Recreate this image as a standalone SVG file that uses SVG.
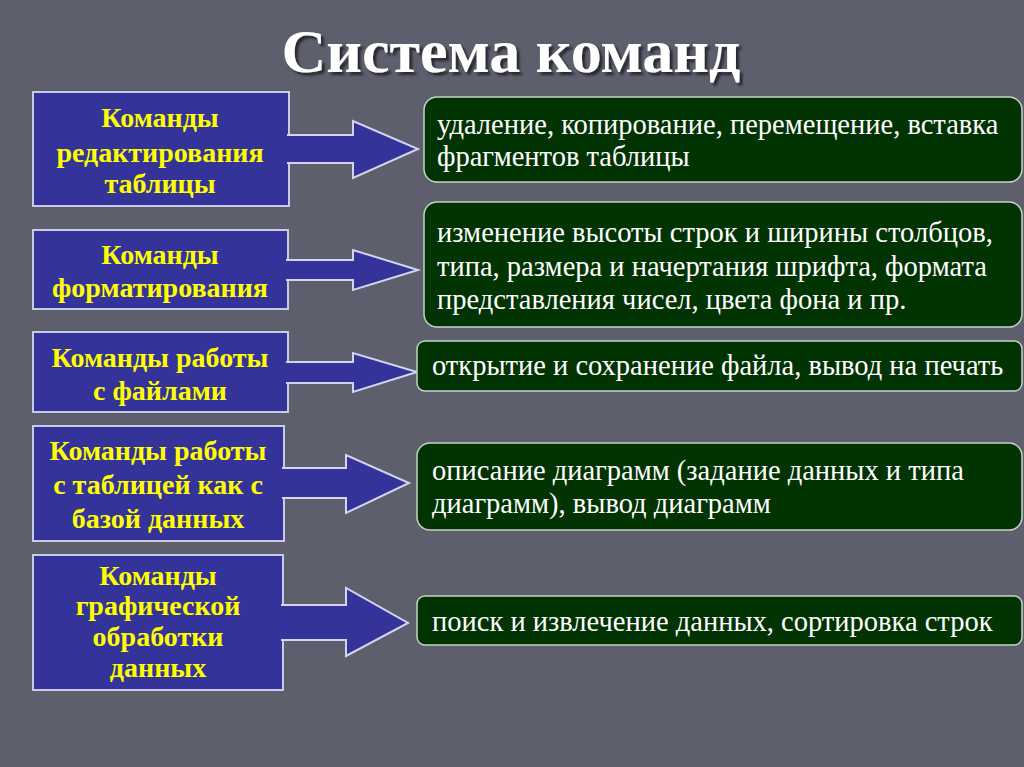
<svg xmlns="http://www.w3.org/2000/svg" width="1024" height="767" viewBox="0 0 1024 767">
<defs>
<filter id="sh" x="-10%" y="-30%" width="120%" height="160%">
<feDropShadow dx="3" dy="3" stdDeviation="1" flood-color="#1c1c26" flood-opacity="0.85"/>
</filter>
</defs>
<style>
.bg{fill:#5e5f6d}
.lbox{fill:#333399;stroke:#c9c9e8;stroke-width:2}
.rbox{fill:#023302;stroke:#c8d0c8;stroke-width:1.5}
.arr{fill:#333399;stroke:#d4d4f0;stroke-width:2;stroke-linejoin:miter}
.lt{font-family:"Liberation Serif","Times New Roman",serif;font-weight:bold;font-size:28px;fill:#ffff00;text-anchor:middle}
.rt{font-family:"Liberation Serif","Times New Roman",serif;font-size:28.5px;fill:#ffffff}
.title{font-family:"Liberation Serif","Times New Roman",serif;font-weight:bold;font-size:62px;text-anchor:middle;fill:#ffffff}
</style>
<rect class="bg" x="0" y="0" width="1024" height="767"/>
<g id="title">
<text class="title" x="511" y="72" filter="url(#sh)">Система команд</text>
</g>
<g id="left1">
<rect class="lbox" x="33" y="92" width="256" height="114"/>
<text class="lt" x="160" y="127">Команды</text>
<text class="lt" x="160" y="162">редактирования</text>
<text class="lt" x="160" y="193">таблицы</text>
</g>
<g id="left2">
<rect class="lbox" x="33" y="230" width="255" height="79"/>
<text class="lt" x="160" y="264">Команды</text>
<text class="lt" x="160" y="297">форматирования</text>
</g>
<g id="left3">
<rect class="lbox" x="33" y="332" width="255" height="80"/>
<text class="lt" x="160" y="367">Команды работы</text>
<text class="lt" x="160" y="400">с файлами</text>
</g>
<g id="left4">
<rect class="lbox" x="33" y="426" width="251" height="115"/>
<text class="lt" x="158" y="460">Команды работы</text>
<text class="lt" x="158" y="494">с таблицей как с</text>
<text class="lt" x="158" y="528">базой данных</text>
</g>
<g id="left5">
<rect class="lbox" x="33" y="555" width="250" height="135"/>
<text class="lt" x="158" y="585">Команды</text>
<text class="lt" x="158" y="615">графической</text>
<text class="lt" x="158" y="646">обработки</text>
<text class="lt" x="158" y="677">данных</text>
</g>
<g id="connectors">
<path class="arr" d="M287,135 H353 V121 L418,149 L353,178 V163 H287"/>
<path class="arr" d="M286,260 H353 V250 L418,270 L353,290 V280 H286"/>
<path class="arr" d="M286,362 H353 V353 L417,372 L353,392 V383 H286"/>
<path class="arr" d="M282,468 H346 V455 L409,483 L346,513 V498 H282"/>
<path class="arr" d="M281,605 H346 V588 L408,623 L346,656 V640 H281"/>
</g>
<g id="right1">
<rect class="rbox" x="424" y="97" width="598" height="85" rx="13"/>
<text class="rt" x="437" y="134">удаление, копирование, перемещение, вставка</text>
<text class="rt" x="437" y="166">фрагментов таблицы</text>
</g>
<g id="right2">
<rect class="rbox" x="424" y="202" width="598" height="125" rx="13"/>
<text class="rt" x="437" y="242">изменение высоты строк и ширины столбцов,</text>
<text class="rt" x="437" y="276">типа, размера и начертания шрифта, формата</text>
<text class="rt" x="437" y="309">представления чисел, цвета фона и пр.</text>
</g>
<g id="right3">
<rect class="rbox" x="417" y="341" width="605" height="50" rx="8"/>
<text class="rt" x="432" y="375">открытие и сохранение файла, вывод на печать</text>
</g>
<g id="right4">
<rect class="rbox" x="417" y="443" width="605" height="87" rx="13"/>
<text class="rt" x="432" y="480">описание диаграмм (задание данных и типа</text>
<text class="rt" x="432" y="513">диаграмм), вывод диаграмм</text>
</g>
<g id="right5">
<rect class="rbox" x="417" y="596" width="605" height="49" rx="8"/>
<text class="rt" x="432" y="631">поиск и извлечение данных, сортировка строк</text>
</g>
</svg>
